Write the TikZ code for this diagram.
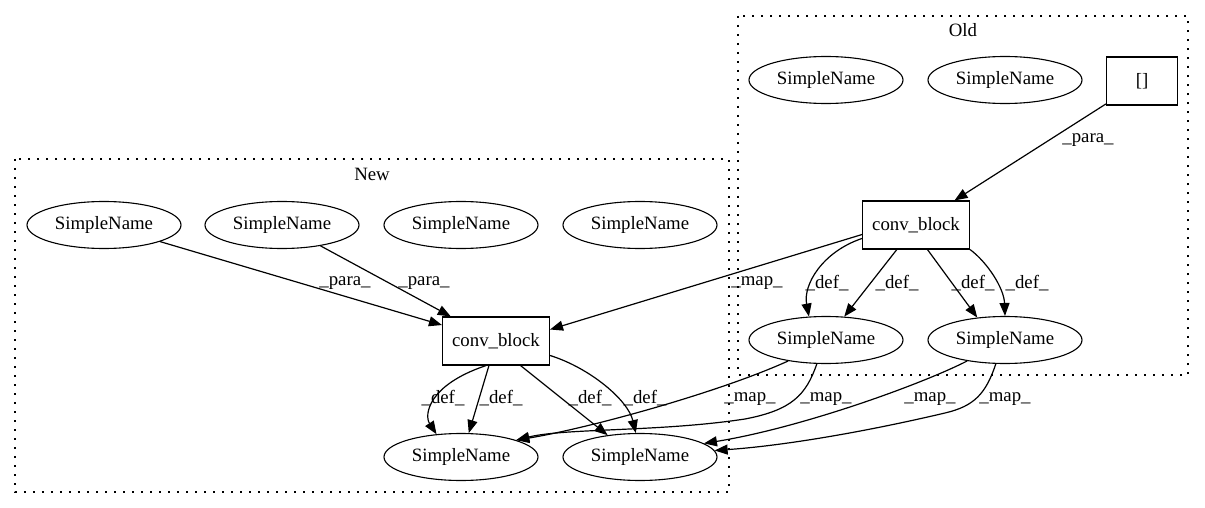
\documentclass[tikz,border=0pt]{standalone}
\usepackage{fontspec}
\setmainfont{Liberation Serif}
\usetikzlibrary{shapes.geometric,arrows.meta,calc}
\tikzset{
  sn/.style={ellipse,draw,line width=1.1pt,minimum width=154pt,minimum height=47pt,inner sep=0pt,font=\fontsize{18.8}{22}\selectfont},
  bx/.style={rectangle,draw,line width=1.1pt,minimum height=48pt,inner sep=0pt,font=\fontsize{18.8}{22}\selectfont},
  edge/.style={line width=1.2pt,-{Triangle[length=13pt,width=10pt]}},
  lbl/.style={inner sep=0pt,font=\fontsize{18.8}{22}\selectfont},
  clus/.style={line width=1.7pt,dash pattern=on 1.7pt off 7.3pt},
}
\begin{document}
\begin{tikzpicture}[x=1pt,y=-1pt]
\useasboundingbox (0,0) rectangle (1205,508);
% clusters
\draw[clus] (738,16) rectangle (1188,375);
\node[lbl] (oldl) at (963,30) {Old};
\draw[clus] (15,159) rectangle (729,492);
\node[lbl] (newl) at (372,174) {New};
% old nodes
\node[sn] (o1) at (826,80) {SimpleName};
\node[sn] (o2) at (1005,80) {SimpleName};
\node[bx,minimum width=71pt] (ob) at (1142,81) {[]};
\node[bx,minimum width=107pt] (oc) at (916,225) {conv\_block};
\node[sn] (o3) at (826,340) {SimpleName};
\node[sn] (o4) at (1005,340) {SimpleName};
% new nodes
\node[sn] (n1) at (104,225) {SimpleName};
\node[sn] (n2) at (282,225) {SimpleName};
\node[sn] (n3) at (461,225) {SimpleName};
\node[sn] (n4) at (640,225) {SimpleName};
\node[bx,minimum width=107pt] (nc) at (496,341) {conv\_block};
\node[sn] (n5) at (461,457) {SimpleName};
\node[sn] (n6) at (640,457) {SimpleName};
% old edges
\draw[edge] (ob) -- (oc);
\node[lbl] (l1) at (1088,140) {\_para\_};
\draw[edge] (oc.194) .. controls (822,252) and (803,285) .. (o3.126);
\node[lbl] (l2) at (827,283) {\_def\_};
\draw[edge] (oc.232) -- (o3.52);
\node[lbl] (l3) at (897,283) {\_def\_};
\draw[edge] (oc.295) -- (o4.141);
\node[lbl] (l4) at (973,283) {\_def\_};
\draw[edge] (oc.south east) .. controls (987,262) and (1004,288) .. (o4.north);
\node[lbl] (l5) at (1027,283) {\_def\_};
% cross map
\draw[edge] (oc.190) -- (nc.12);
\node[lbl] (l6) at (757,283) {\_map\_};
% new edges
\draw[edge] (n1) -- (nc);
\node[lbl] (l7) at (345,283) {\_para\_};
\draw[edge] (n2) -- (nc);
\node[lbl] (l8) at (424,283) {\_para\_};
\draw[edge] (nc.248) .. controls (428,385) and (424,415) .. (n5.137);
\node[lbl] (l9) at (443,398) {\_def\_};
\draw[edge] (nc.254) -- (n5.72);
\node[lbl] (l10) at (501,398) {\_def\_};
\draw[edge] (nc.315) -- (n6.146);
\node[lbl] (l11) at (590,398) {\_def\_};
\draw[edge] (nc.345) .. controls (590,368) and (628,400) .. (n6.100);
\node[lbl] (l12) at (645,398) {\_def\_};
% map edges old -> new
\draw[edge] (o3.209) .. controls (720,392) and (590,428) .. (n5.17);
\node[lbl] (l13) at (750,399) {\_map\_};
\draw[edge] (o3.249) .. controls (806,395) and (792,410) .. (745,419) .. controls (660,432) and (565,428) .. (n5.17);
\node[lbl] (l14) at (826,399) {\_map\_};
\draw[edge] (o4.209) .. controls (920,385) and (800,428) .. (n6.12);
\node[lbl] (l15) at (930,399) {\_map\_};
\draw[edge] (o4.249) .. controls (986,393) and (975,406) .. (945,413) .. controls (860,433) and (780,446) .. (n6.5);
\node[lbl] (l16) at (1005,399) {\_map\_};
\end{tikzpicture}
\end{document}
